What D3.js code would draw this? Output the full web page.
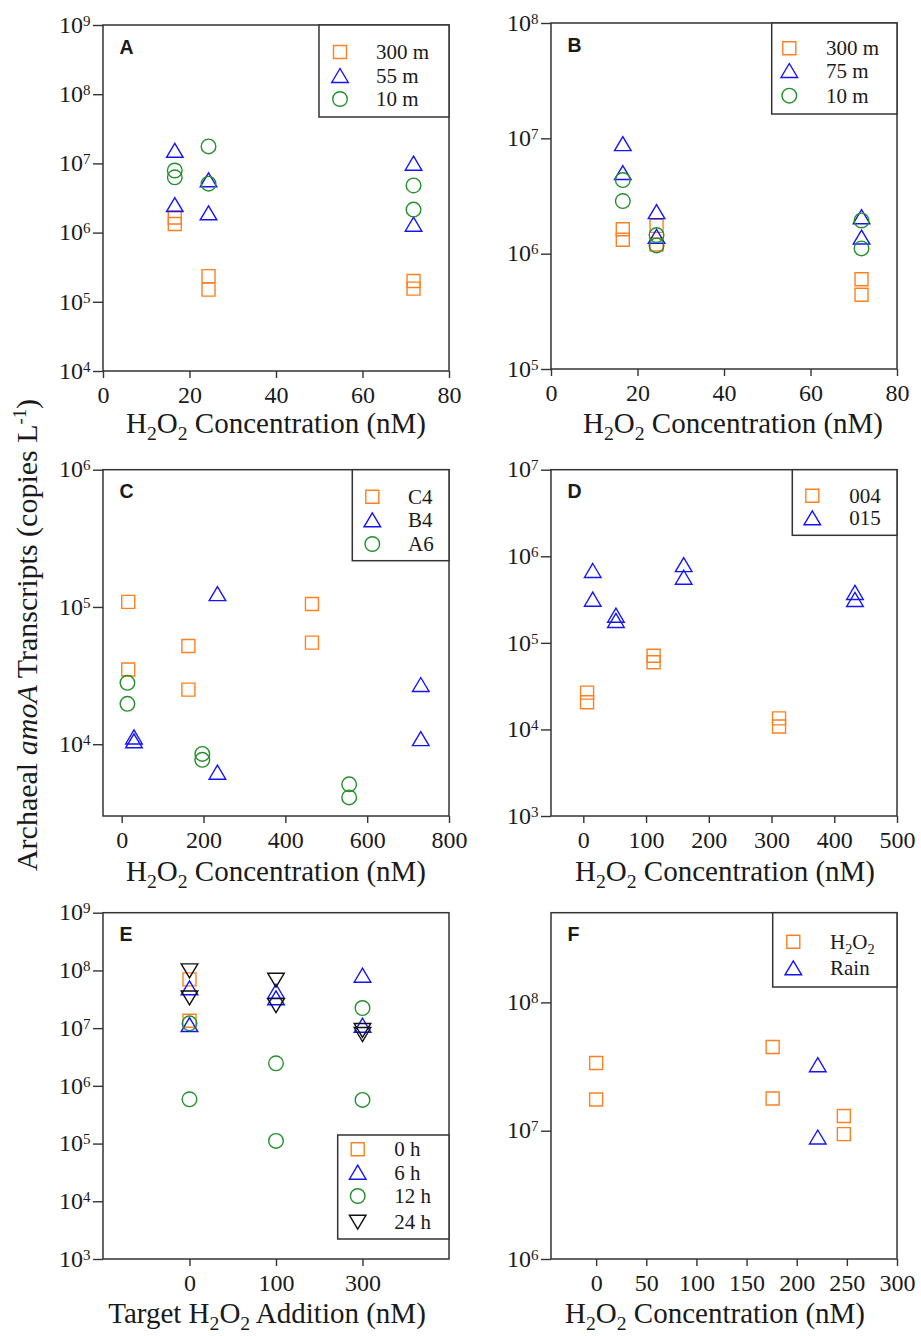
<!DOCTYPE html>
<html><head><meta charset="utf-8">
<script src="https://cdn.jsdelivr.net/npm/d3@7"></script>
<style>body{margin:0;background:#fff}</style>
</head><body>
<svg id="fig" width="921" height="1336" xmlns="http://www.w3.org/2000/svg"></svg>
<script>
// ---------- DATA ----------
// Panel A
const aLegend = ["300 m", "55 m", "10 m"];
const aX = [16.6, 16.6, 24.4, 24.4, 71.8, 71.8];
const a300m = [1.65e6, 1.33e6, 2.35e5, 1.5e5, 2.0e5, 1.55e5];
const a55m  = [1.52e7, 2.5e6, 5.7e6, 1.9e6, 9.9e6, 1.3e6];
const a10m  = [7.9e6, 6.3e6, 1.76e7, 5.1e6, 4.8e6, 2.15e6];
// Panel B
const bLegend = ["300 m", "75 m", "10 m"];
const bX = [16.6, 16.6, 24.4, 24.4, 71.8, 71.8];
const b300m = [1.63e6, 1.32e6, 1.74e6, 1.2e6, 6.0e5, 4.4e5];
const b75m  = [8.9e6, 5.0e6, 2.29e6, 1.4e6, 2.07e6, 1.38e6];
const b10m  = [4.35e6, 2.86e6, 1.45e6, 1.18e6, 1.94e6, 1.11e6];
// Panel C
const cLegend = ["C4", "B4", "A6"];
const cX_C4 = [16, 16, 163, 163, 465, 465];
const cC4   = [1.09e5, 3.5e4, 5.2e4, 2.5e4, 1.05e5, 5.5e4];
const cX_B4 = [30, 30, 234, 234, 731, 731];
const cB4   = [1.12e4, 1.05e4, 1.24e5, 6.2e3, 2.7e4, 1.09e4];
const cX_A6 = [14, 14, 197, 197, 556, 556];
const cA6   = [2.8e4, 1.97e4, 8.5e3, 7.7e3, 5.1e3, 4.1e3];
// Panel D
const dLegend = ["004", "015"];
const dX_004 = [6, 6, 112, 112, 312, 312];
const d004   = [2.66e4, 2.06e4, 7.1e4, 5.96e4, 1.34e4, 1.08e4];
const dX_015 = [15, 15, 52, 52, 160, 160, 433, 433];
const d015   = [6.76e5, 3.15e5, 2.06e5, 1.79e5, 7.9e5, 5.65e5, 3.77e5, 3.13e5];
// Panel E
const eCategories = ["0", "100", "300"];
const eLegend = ["0 h", "6 h", "12 h", "24 h"];
const eX_0h  = ["0", "0"];
const e0h    = [7.0e7, 1.34e7];
const eX_6h  = ["0", "0", "100", "100", "300", "300"];
const e6h    = [4.9e7, 1.13e7, 4.27e7, 3.29e7, 8.1e7, 1.1e7];
const eX_12h = ["0", "0", "100", "100", "300", "300"];
const e12h   = [1.21e7, 5.85e5, 2.46e6, 1.11e5, 2.23e7, 5.7e5];
const eX_24h = ["0", "0", "100", "100", "300", "300"];
const e24h   = [1.0e8, 3.4e7, 6.9e7, 2.5e7, 9.3e6, 7.9e6];
// Panel F
const fLegend = ["H2O2", "Rain"];
const fX_H2O2 = [0, 0, 176, 176, 247, 247];
const fH2O2   = [3.37e7, 1.75e7, 4.49e7, 1.78e7, 1.3e7, 9.4e6];
const fX_Rain = [221, 221];
const fRain   = [3.24e7, 8.85e6];
// Tick values
const ticksX_AB = [0, 20, 40, 60, 80];
const ticksX_C = [0, 200, 400, 600, 800];
const ticksX_D = [0, 100, 200, 300, 400, 500];
const ticksX_F = [0, 50, 100, 150, 200, 250, 300];

// ---------- STYLE ----------
const ORANGE = "#ff8021", BLUE = "#1414ff", GREEN = "#22902a", BLACK = "#111";
const SERIF = "'Liberation Serif','Times New Roman',serif";
const AXC = "#333";
const svg = d3.select("#fig");

function markerPath(type) {
  const p = d3.path();
  if (type === "square") { const s = 6.5; p.rect(-s, -s, 2 * s, 2 * s); }
  else if (type === "tri") { p.moveTo(0, -7.5); p.lineTo(8.3, 6.5); p.lineTo(-8.3, 6.5); p.closePath(); }
  else if (type === "itri") { p.moveTo(0, 7.5); p.lineTo(8.3, -6.5); p.lineTo(-8.3, -6.5); p.closePath(); }
  else { p.arc(0, 0, 7.3, 0, 2 * Math.PI); }
  return p.toString();
}

function addRichText(sel, parts, baseSize) {
  let shift = 0;
  parts.forEach(([t, k]) => {
    const ts = sel.append("tspan").text(t);
    let target = 0;
    if (k === "sub") { target = baseSize * 0.24; ts.attr("font-size", baseSize * 0.68); }
    if (k === "sup") { target = -baseSize * 0.36; ts.attr("font-size", baseSize * 0.62); }
    if (k === "it") ts.attr("font-style", "italic");
    ts.attr("dy", target - shift);
    shift = target;
  });
}

function drawPanel(cfg) {
  const g = svg.append("g");
  const x = d3.scaleLinear().domain(cfg.xDomain).range([cfg.l, cfg.r]);
  const y = d3.scaleLog().domain(cfg.yDomain).range([cfg.b, cfg.t]);

  const xa = g.append("g").attr("transform", `translate(0,${cfg.b})`)
    .call(d3.axisBottom(x).tickValues(cfg.xTicks).tickSize(7).tickFormat(cfg.xFmt || (d => d)));
  xa.attr("font-family", SERIF);
  xa.select(".domain").remove();
  xa.selectAll(".tick line").attr("stroke", AXC).attr("stroke-width", 1.4);
  xa.selectAll(".tick text").attr("y", 32).attr("dy", null)
    .attr("font-family", SERIF).attr("font-size", 24).attr("fill", "#1a1a1a");

  const ya = g.append("g").attr("transform", `translate(${cfg.l},0)`)
    .call(d3.axisLeft(y).tickValues(cfg.yTicks).tickSize(10));
  ya.attr("font-family", SERIF);
  ya.select(".domain").remove();
  ya.selectAll(".tick line").attr("stroke", AXC).attr("stroke-width", 1.4);
  ya.selectAll(".tick text").each(function (d) {
    const t = d3.select(this);
    t.text(null).attr("x", -12.5).attr("dy", "0.3em")
      .attr("font-family", SERIF).attr("font-size", 24).attr("fill", "#1a1a1a");
    t.append("tspan").text("10");
    t.append("tspan").attr("dy", -7).attr("font-size", 15).text(Math.round(Math.log10(d)));
  });

  g.append("rect").attr("x", cfg.l).attr("y", cfg.t)
    .attr("width", cfg.r - cfg.l).attr("height", cfg.b - cfg.t)
    .attr("fill", "none").attr("stroke", AXC).attr("stroke-width", 1.5);

  g.append("text").attr("x", cfg.l + 16.5).attr("y", cfg.t + 28.5)
    .attr("font-family", "'Liberation Sans',Arial,sans-serif").attr("font-weight", "bold")
    .attr("font-size", 19.5).attr("fill", "#1a1a1a").text(cfg.letter);

  const xt = g.append("text").attr("x", cfg.titleX).attr("y", cfg.titleY)
    .attr("text-anchor", "middle").attr("font-family", SERIF).attr("font-size", 29).attr("fill", "#1a1a1a");
  addRichText(xt, cfg.title, 29);

  cfg.series.forEach(s => {
    g.append("g").selectAll("path").data(s.ys).join("path")
      .attr("d", markerPath(s.shape))
      .attr("transform", (v, i) => `translate(${x(s.xf(s.xs[i]))},${y(v)})`)
      .attr("fill", "none").attr("stroke", s.color).attr("stroke-width", 1.4);
  });

  const L = cfg.legend;
  g.append("rect").attr("x", L.x1).attr("y", L.y1).attr("width", L.x2 - L.x1).attr("height", L.y2 - L.y1)
    .attr("fill", "#fff").attr("stroke", AXC).attr("stroke-width", 1.5);
  cfg.series.forEach((s, i) => {
    g.append("path").attr("d", markerPath(s.shape))
      .attr("transform", `translate(${L.sx},${L.rows[i]})`)
      .attr("fill", "none").attr("stroke", s.color).attr("stroke-width", 1.4);
    const tt = g.append("text").attr("x", L.tx).attr("y", L.rows[i] + 7)
      .attr("font-family", SERIF).attr("font-size", 21).attr("fill", "#1a1a1a");
    if (s.label === "H2O2") addRichText(tt, [["H", ""], ["2", "sub"], ["O", ""], ["2", "sub"]], 21);
    else tt.text(s.label);
  });
}

const id = v => v;
const catIdx = c => eCategories.indexOf(c);
const h2o2Title = [["H", ""], ["2", "sub"], ["O", ""], ["2", "sub"], [" Concentration (nM)", ""]];

drawPanel({
  letter: "A", l: 103, r: 449, t: 25, b: 371, xDomain: [0, 80], yDomain: [1e4, 1e9],
  xTicks: ticksX_AB, yTicks: [1e4, 1e5, 1e6, 1e7, 1e8, 1e9], titleX: 276, titleY: 433, title: h2o2Title,
  series: [
    { label: aLegend[0], shape: "square", color: ORANGE, xs: aX, ys: a300m, xf: id },
    { label: aLegend[1], shape: "tri", color: BLUE, xs: aX, ys: a55m, xf: id },
    { label: aLegend[2], shape: "circle", color: GREEN, xs: aX, ys: a10m, xf: id }],
  legend: { x1: 319, y1: 25, x2: 449, y2: 117, sx: 340, tx: 376, rows: [52, 76, 99] }
});
drawPanel({
  letter: "B", l: 551, r: 897, t: 23, b: 369, xDomain: [0, 80], yDomain: [1e5, 1e8],
  xTicks: ticksX_AB, yTicks: [1e5, 1e6, 1e7, 1e8], titleX: 733, titleY: 433, title: h2o2Title,
  series: [
    { label: bLegend[0], shape: "square", color: ORANGE, xs: bX, ys: b300m, xf: id },
    { label: bLegend[1], shape: "tri", color: BLUE, xs: bX, ys: b75m, xf: id },
    { label: bLegend[2], shape: "circle", color: GREEN, xs: bX, ys: b10m, xf: id }],
  legend: { x1: 771.7, y1: 23, x2: 897, y2: 114, sx: 789.3, tx: 826, rows: [48.3, 71, 95.7] }
});
drawPanel({
  letter: "C", l: 103, r: 449, t: 469.7, b: 816, xDomain: [-45.7, 800], yDomain: [3e3, 1e6],
  xTicks: ticksX_C, yTicks: [1e4, 1e5, 1e6], titleX: 276, titleY: 881, title: h2o2Title,
  series: [
    { label: cLegend[0], shape: "square", color: ORANGE, xs: cX_C4, ys: cC4, xf: id },
    { label: cLegend[1], shape: "tri", color: BLUE, xs: cX_B4, ys: cB4, xf: id },
    { label: cLegend[2], shape: "circle", color: GREEN, xs: cX_A6, ys: cA6, xf: id }],
  legend: { x1: 352.3, y1: 469.7, x2: 449, y2: 560.7, sx: 372.3, tx: 408, rows: [496.7, 520.3, 544] }
});
drawPanel({
  letter: "D", l: 551, r: 897, t: 469.7, b: 816, xDomain: [-51.5, 500], yDomain: [1e3, 1e7],
  xTicks: ticksX_D, yTicks: [1e3, 1e4, 1e5, 1e6, 1e7], titleX: 725, titleY: 881, title: h2o2Title,
  series: [
    { label: dLegend[0], shape: "square", color: ORANGE, xs: dX_004, ys: d004, xf: id },
    { label: dLegend[1], shape: "tri", color: BLUE, xs: dX_015, ys: d015, xf: id }],
  legend: { x1: 792.3, y1: 469.7, x2: 897, y2: 535.3, sx: 812.3, tx: 849.3, rows: [495.7, 518.3] }
});
drawPanel({
  letter: "E", l: 103, r: 449, t: 912.7, b: 1259, xDomain: [-1, 3], yDomain: [1e3, 1e9],
  xTicks: [0, 1, 2], xFmt: i => eCategories[i], yTicks: [1e3, 1e4, 1e5, 1e6, 1e7, 1e8, 1e9],
  titleX: 267, titleY: 1323, title: [["Target H", ""], ["2", "sub"], ["O", ""], ["2", "sub"], [" Addition (nM)", ""]],
  series: [
    { label: eLegend[0], shape: "square", color: ORANGE, xs: eX_0h, ys: e0h, xf: catIdx },
    { label: eLegend[1], shape: "tri", color: BLUE, xs: eX_6h, ys: e6h, xf: catIdx },
    { label: eLegend[2], shape: "circle", color: GREEN, xs: eX_12h, ys: e12h, xf: catIdx },
    { label: eLegend[3], shape: "itri", color: BLACK, xs: eX_24h, ys: e24h, xf: catIdx }],
  legend: { x1: 337.7, y1: 1135, x2: 449, y2: 1239, sx: 357.7, tx: 394.3, rows: [1149.3, 1172.7, 1196, 1221.7] }
});
drawPanel({
  letter: "F", l: 551, r: 897, t: 912.7, b: 1259, xDomain: [-45, 300], yDomain: [1e6, 5e8],
  xTicks: ticksX_F, yTicks: [1e6, 1e7, 1e8], titleX: 715, titleY: 1323, title: h2o2Title,
  series: [
    { label: fLegend[0], shape: "square", color: ORANGE, xs: fX_H2O2, ys: fH2O2, xf: id },
    { label: fLegend[1], shape: "tri", color: BLUE, xs: fX_Rain, ys: fRain, xf: id }],
  legend: { x1: 772.7, y1: 912.7, x2: 897, y2: 987, sx: 793.3, tx: 830, rows: [941.7, 968.3] }
});

const yt = svg.append("text").attr("transform", "translate(37,635) rotate(-90)")
  .attr("text-anchor", "middle").attr("font-family", SERIF).attr("font-size", 30).attr("fill", "#1a1a1a");
addRichText(yt, [["Archaeal ", ""], ["amoA", "it"], [" Transcripts (copies L", ""], ["-1", "sup"], [")", ""]], 30);
</script>
</body></html>
